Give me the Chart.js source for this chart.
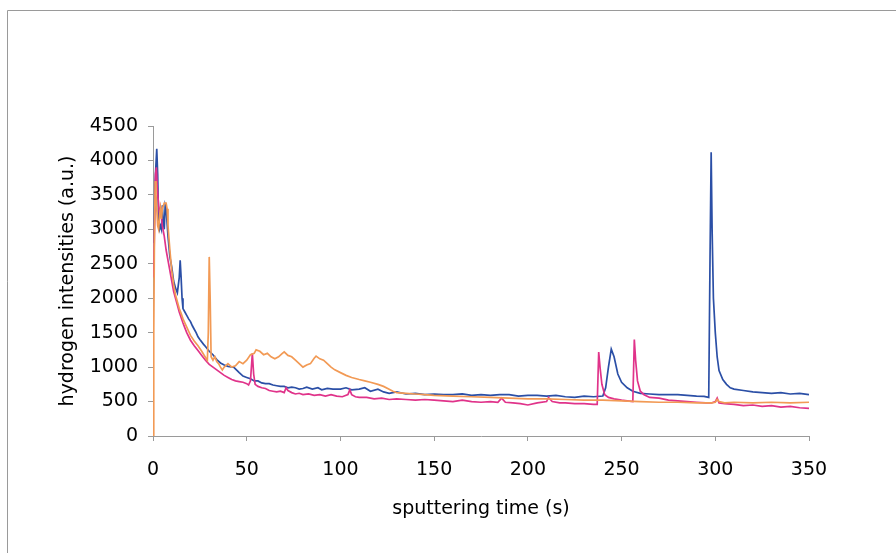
<!DOCTYPE html>
<html>
<head>
<meta charset="utf-8">
<script src="https://cdn.jsdelivr.net/npm/chart.js@4/dist/chart.umd.min.js"></script>
<style>
  html, body { margin: 0; padding: 0; background: #fff; }
  #wrap { width: 896px; height: 553px; }
</style>
</head>
<body>
<div id="wrap"><canvas id="c" width="896" height="553"></canvas></div>
<script>
// Hydrogen depth profiles: [sputtering time (s), intensity (a.u.)]
const blueSeries = [
  [0.5,2800],[1,3600],[1.5,3900],[2,4170],[2.5,3800],[3,3100],[3.5,3000],[4,3050],[4.5,3000],[5,3350],
  [5.5,3100],[6,3000],[6.5,3350],[7,3300],[8,2900],[9,2600],[10,2450],[11,2250],[12,2150],[13,2080],
  [14,2300],[14.5,2550],[15,2300],[15.5,2000],[16,1850],[17,1800],[18,1750],[19,1700],[20,1660],[21,1600],
  [22,1550],[23,1500],[24,1440],[25,1400],[27,1330],[28,1300],[30,1230],[32,1180],[34,1110],[36,1060],
  [38,1030],[40,1010],[43,1000],[46,920],[48,870],[50,850],[52,830],[54,800],[56,800],[58,770],
  [60,760],[62,760],[64,740],[66,730],[68,720],[70,720],[72,700],[74,710],[76,700],[78,680],
  [80,690],[82,710],[85,680],[88,700],[90,670],[93,690],[96,680],[100,680],[103,700],[106,670],
  [110,680],[113,700],[116,650],[120,680],[123,640],[126,620],[130,640],[135,610],[140,620],[145,600],
  [150,610],[155,600],[160,600],[165,610],[170,590],[175,600],[180,590],[185,600],[190,600],[195,580],
  [200,590],[205,590],[210,580],[215,590],[220,570],[225,560],[230,580],[235,570],[240,580],[241.5,700],
  [243,1000],[244.5,1260],[246,1150],[248,900],[250,780],[253,700],[256,650],[260,620],[265,610],[270,600],
  [275,600],[280,600],[285,590],[290,580],[294,575],[296.5,560],[297.2,2600],[297.8,4120],[298.3,3000],[299,2000],
  [300,1500],[301,1150],[302,950],[304,820],[306,750],[308,700],[310,680],[315,660],[320,640],[325,630],
  [330,620],[335,630],[340,610],[345,620],[350,600]
];

const orangeSeries = [
  [0,0],[0.4,1500],[0.8,3000],[1.2,3700],[1.6,3500],[2,3300],[2.5,3050],[3,3000],[3.5,3200],[4,3300],
  [4.5,3150],[5,3300],[6,3380],[7,3380],[7.5,3300],[8,3050],[9,2700],[10,2400],[11,2200],[12,2050],
  [13,1950],[14,1850],[15,1780],[16,1700],[18,1580],[20,1460],[22,1380],[24,1310],[26,1230],[28,1140],
  [29,1100],[29.5,1500],[30,2600],[30.5,2000],[31,1150],[32,1100],[33,1150],[34,1080],[35,1050],[36,1000],
  [37,960],[38,1000],[40,1050],[42,1000],[44,1020],[46,1080],[48,1050],[50,1100],[52,1180],[54,1200],
  [55,1250],[57,1230],[59,1180],[61,1200],[63,1150],[65,1120],[67,1150],[69,1200],[70,1220],[72,1170],
  [74,1150],[76,1100],[78,1050],[80,1000],[82,1030],[84,1050],[86,1130],[87,1160],[89,1120],[91,1100],
  [93,1050],[95,1000],[97,960],[100,920],[103,880],[106,850],[110,820],[113,800],[116,780],[120,750],
  [123,720],[126,680],[128,650],[130,630],[135,620],[140,610],[145,600],[150,590],[160,580],[170,570],
  [180,560],[190,550],[200,540],[210,540],[220,530],[230,520],[240,520],[250,510],[260,500],[270,490],
  [280,490],[290,480],[298,480],[300,490],[301,530],[302,500],[305,480],[310,490],[320,480],[330,490],
  [340,480],[350,490]
];

const magentaSeries = [
  [0.3,2300],[0.8,3000],[1.3,3800],[1.8,3900],[2.3,3600],[3,3350],[3.5,3200],[4,3300],[5,3050],[6,2900],
  [7,2700],[8,2550],[9,2400],[10,2250],[11,2100],[12,2000],[13,1900],[14,1800],[15,1720],[16,1640],
  [17,1570],[18,1500],[20,1390],[22,1310],[24,1240],[26,1170],[28,1100],[30,1040],[32,1000],[34,960],
  [36,920],[38,880],[40,850],[42,820],[44,800],[46,790],[48,780],[50,760],[51,740],[52,800],
  [53,1200],[53.7,900],[54.5,750],[56,720],[58,700],[60,690],[62,660],[64,650],[66,640],[68,650],
  [70,630],[71,700],[72,660],[74,630],[76,610],[78,620],[80,600],[83,610],[86,590],[89,600],
  [92,580],[95,600],[98,580],[101,570],[104,600],[105,670],[106,600],[108,570],[110,560],[114,560],
  [118,540],[122,550],[126,530],[130,540],[135,530],[140,520],[145,530],[150,520],[155,510],[160,500],
  [165,520],[170,500],[175,490],[180,500],[184,490],[186,550],[188,490],[192,480],[196,470],[200,450],
  [205,480],[210,500],[211,560],[213,500],[217,480],[220,480],[225,470],[230,470],[235,460],[237,460],
  [237.8,1220],[238.5,1000],[239.5,750],[241,600],[243,560],[246,540],[250,520],[253,510],[256,500],[256.8,1400],
  [257.5,1100],[258.5,800],[260,650],[262,600],[265,560],[270,550],[275,520],[280,510],[285,500],[290,490],
  [295,480],[298,480],[300,500],[301,550],[302,480],[305,470],[310,460],[315,440],[320,450],[325,430],
  [330,440],[335,420],[340,430],[345,410],[350,400]
];

const xTicks = [0, 50, 100, 150, 200, 250, 300, 350];
const yTicks = [0, 500, 1000, 1500, 2000, 2500, 3000, 3500, 4000, 4500];

const toPoints = s => s.map(([x, y]) => ({ x, y }));

// thin grey frame around the figure
const framePlugin = {
  id: 'frame',
  beforeDraw(chart) {
    const ctx = chart.ctx;
    ctx.save();
    ctx.strokeStyle = '#9a9a9a';
    ctx.lineWidth = 1;
    ctx.beginPath();
    ctx.moveTo(7.5, 553);
    ctx.lineTo(7.5, 10.5);
    ctx.lineTo(896, 10.5);
    ctx.stroke();
    ctx.restore();
  }
};

const font = { family: '"DejaVu Sans", sans-serif', size: 19 };
const plain = v => String(v);

new Chart(document.getElementById('c'), {
  type: 'line',
  data: {
    datasets: [
      { data: toPoints(orangeSeries), borderColor: '#f29a55', borderWidth: 1.7 },
      { data: toPoints(magentaSeries), borderColor: '#e0338a', borderWidth: 1.7 },
      { data: toPoints(blueSeries), borderColor: '#2b4fa6', borderWidth: 1.7 }
    ]
  },
  options: {
    responsive: false,
    animation: false,
    events: [],
    elements: { point: { radius: 0 }, line: { tension: 0 } },
    layout: { padding: { left: 0, top: 126, right: 87, bottom: 0 } },
    plugins: { legend: { display: false }, tooltip: { enabled: false } },
    scales: {
      x: {
        type: 'linear',
        min: 0, max: 350,
        afterFit: s => { s.height = 117; },
        afterBuildTicks: s => { s.ticks = xTicks.map(v => ({ value: v })); },
        border: { color: '#9a9a9a', width: 1 },
        grid: { drawOnChartArea: false, drawTicks: true, tickLength: 5, color: '#9a9a9a' },
        ticks: { color: '#000', font, padding: 18, maxRotation: 0, callback: plain },
        title: { display: true, text: 'sputtering time (s)', color: '#000', font, padding: { top: 14, bottom: 33 } }
      },
      y: {
        type: 'linear',
        min: 0, max: 4500,
        afterFit: s => { s.width = 153; },
        afterBuildTicks: s => { s.ticks = yTicks.map(v => ({ value: v })); },
        border: { color: '#9a9a9a', width: 1 },
        grid: { drawOnChartArea: false, drawTicks: true, tickLength: 5, color: '#9a9a9a' },
        ticks: { color: '#000', font, padding: 10, callback: plain },
        title: { display: true, text: 'hydrogen intensities (a.u.)', color: '#000', font, padding: { top: 57, bottom: 0 } }
      }
    }
  },
  plugins: [framePlugin]
});
</script>
</body>
</html>
